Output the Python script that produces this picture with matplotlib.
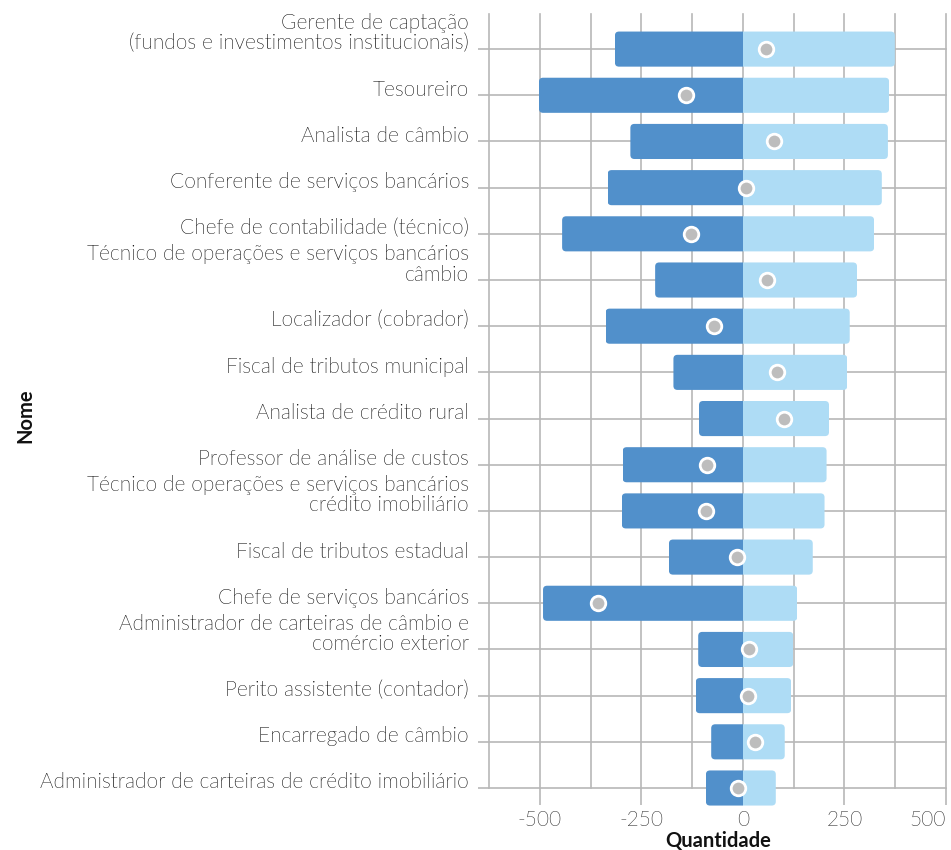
import numpy as np
import matplotlib.pyplot as plt
import matplotlib.transforms as mtransforms
from matplotlib import font_manager as fm
from matplotlib.patches import FancyBboxPatch
from matplotlib.path import Path
from matplotlib.ticker import MultipleLocator, FixedLocator

plt.rcParams['font.family'] = ['Lato', 'DejaVu Sans']
plt.rcParams['axes.unicode_minus'] = False

# dados
nomes = ['Gerente de captação\n(fundos e investimentos institucionais)',
         'Tesoureiro',
         'Analista de câmbio',
         'Conferente de serviços bancários',
         'Chefe de contabilidade (técnico)',
         'Técnico de operações e serviços bancários\ncâmbio',
         'Localizador (cobrador)',
         'Fiscal de tributos municipal',
         'Analista de crédito rural',
         'Professor de análise de custos',
         'Técnico de operações e serviços bancários\ncrédito imobiliário',
         'Fiscal de tributos estadual',
         'Chefe de serviços bancários',
         'Administrador de carteiras de câmbio e\ncomércio exterior',
         'Perito assistente (contador)',
         'Encarregado de câmbio',
         'Administrador de carteiras de crédito imobiliário']
desligamentos = [-315, -502, -277, -333, -445, -216, -338, -171, -108, -296, -298, -182, -492, -110, -116, -78, -91]
admissoes = [374, 360, 357, 342, 323, 281, 263, 257, 212, 206, 201, 172, 134, 124, 119, 103, 81]
saldo = [58, -141, 76, 7, -128, 60, -72, 83, 101, -89, -90, -15, -357, 16, 12, 30, -11]
xticks = [-500, -250, 0, 250, 500]

cor_escura = '#5190cb'
cor_clara = '#aedcf5'
cor_grade = '#b8b8b8'
cor_texto = '#000000'

# procura o Lato Light (se nao houver, usa o Lato normal)
fonte_leve = None
for f in fm.fontManager.ttflist:
    nome_arq = f.fname.lower()
    if f.name == 'Lato' and 'light' in nome_arq and 'italic' not in nome_arq:
        fonte_leve = fm.FontProperties(fname=f.fname)
        break
if fonte_leve is None:
    fonte_leve = fm.FontProperties(family='Lato', weight='normal')

fig = plt.figure(figsize=(9.51, 8.5), dpi=100)
ax = fig.add_axes([489/951, 1-788/850, (946-489)/951, (788-14)/850])

y = np.arange(len(nomes))
h = 0.76
raio = 10
aspecto = 0.087 / raio

# barras com cantos arredondados so na ponta externa:
# o retangulo arredondado passa do zero e e recortado no zero
for i in range(len(nomes)):
    for v, cor in ((desligamentos[i], cor_escura), (admissoes[i], cor_clara)):
        x0 = min(0, v) - (3 * raio if v > 0 else 0)
        p = FancyBboxPatch((x0, y[i] - h/2), abs(v) + 3 * raio, h,
                           boxstyle='round,pad=0,rounding_size=%g' % raio,
                           mutation_aspect=aspecto, facecolor=cor,
                           edgecolor='none', zorder=2)
        xa, xb = min(0, v), max(0, v)
        recorte = Path([(xa, y[i] - h), (xb, y[i] - h), (xb, y[i] + h),
                        (xa, y[i] + h), (xa, y[i] - h)], closed=True)
        p.set_clip_path(recorte, transform=ax.transData)
        ax.add_patch(p)

ax.scatter(saldo, y, s=110, color='#bdbdbd', edgecolors='white', linewidths=2,
           zorder=4, clip_on=False)

ax.set_xlim(-625, 500)
ax.set_ylim(len(nomes) - 1, -0.76)

ax.xaxis.set_major_locator(FixedLocator(xticks))
ax.xaxis.set_minor_locator(MultipleLocator(125))
ax.set_xticklabels([str(t) for t in xticks])
ax.set_yticks(y)
ax.set_yticklabels([])

ax.set_axisbelow(True)
ax.grid(True, which='both', axis='x', color=cor_grade, linewidth=1.2)
ax.grid(True, which='major', axis='y', color=cor_grade, linewidth=1.2)
for s in ax.spines.values():
    s.set_visible(False)

ax.tick_params(axis='x', which='major', length=12, width=1.2, color=cor_grade,
               labelsize=14, labelcolor='#222222', pad=4)
ax.tick_params(axis='x', which='minor', length=0)
ax.tick_params(axis='y', which='major', length=8, width=1.2, color=cor_grade)
xlabs = ax.get_xticklabels()
for lab in xlabs:
    lab.set_fontproperties(fonte_leve)
    lab.set_fontsize(15)
xlabs[-1].set_horizontalalignment('right')

for t in ax.xaxis.get_major_ticks() + ax.xaxis.get_minor_ticks() + ax.yaxis.get_major_ticks():
    t.gridline.set_clip_on(False)

trans = mtransforms.blended_transform_factory(ax.transAxes, ax.transData) + \
    mtransforms.ScaledTranslation(-0.20, -0.045, fig.dpi_scale_trans)
for i, nome in enumerate(nomes):
    ax.text(0, y[i], nome, transform=trans, ha='right', va='bottom',
            fontproperties=fonte_leve, fontsize=15, color=cor_texto, linespacing=1.02)

fig.text(718/951, 1 - 841/850, 'Quantidade', ha='center', va='center',
         fontsize=14.5, fontweight='bold', color='#111111')
fig.text(25/951, 1 - 416/850, 'Nome', ha='center', va='center', rotation=90,
         fontsize=14.5, fontweight='bold', color='#111111')

plt.savefig('out.png', dpi=100)
